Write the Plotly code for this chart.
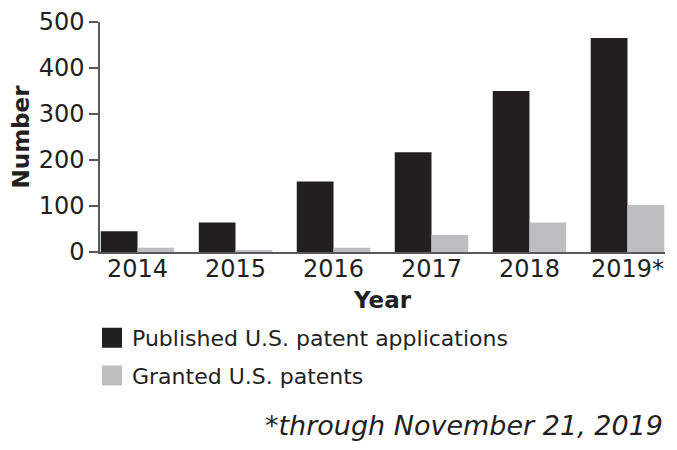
import plotly.graph_objects as go

years = ["2014", "2015", "2016", "2017", "2018", "2019*"]
published = [45, 64, 153, 217, 350, 465]
granted = [9, 4, 9, 37, 64, 102]
y_ticks = [0, 100, 200, 300, 400, 500]

BLACK = "#231f20"
GRAY = "#bcbec0"
AXIS = "#58595b"
FONT = "DejaVu Sans"

fig = go.Figure()
fig.add_trace(go.Bar(x=years, y=published, name="Published U.S. patent applications",
                     marker=dict(color=BLACK, line=dict(width=0)), showlegend=False))
fig.add_trace(go.Bar(x=years, y=granted, name="Granted U.S. patents",
                     marker=dict(color=GRAY, line=dict(width=0)), showlegend=False))
# legend entries (square swatches)
fig.add_trace(go.Scatter(x=[None], y=[None], mode="markers", name="Published U.S. patent applications",
                         legendgroup="a",
                         marker=dict(symbol="square", size=16, color=BLACK, line=dict(color=BLACK, width=4))))
fig.add_trace(go.Scatter(x=[None], y=[None], mode="markers", name="Granted U.S. patents",
                         legendgroup="b",
                         marker=dict(symbol="square", size=16, color=GRAY, line=dict(color=GRAY, width=4))))

# page body has an 8px margin; plot area target (page coords): x 100..665, y 22..252
OFF = 8
PL, PT, PW, PH = 100, 22, 565, 230

fig.update_layout(
    width=677 - OFF, height=450 - OFF,
    margin=dict(l=PL - OFF, r=12 - OFF + OFF, t=PT - OFF, b=450 - OFF - (PT - OFF) - PH - 0, autoexpand=False),
    plot_bgcolor="white", paper_bgcolor="white",
    barmode="group", bargap=0.25, bargroupgap=0,
    font=dict(family=FONT, color=BLACK, size=22),
    showlegend=True,
    legend=dict(x=(92 - PL) / PW, y=(PT + PH - 317) / PH,
                xanchor="left", yanchor="top", traceorder="grouped", tracegroupgap=6,
                font=dict(size=22, family=FONT, color=BLACK), bgcolor="rgba(0,0,0,0)"),
    xaxis=dict(range=[-0.383, 5.383], showline=True, linecolor=AXIS, linewidth=1.5,
               ticks="", tickfont=dict(size=24, family=FONT, color=BLACK), tickangle=0,
               ticklabelstandoff=-6, automargin=False,
               title=dict(text="<b>Year</b>", font=dict(size=23, family=FONT, color=BLACK), standoff=10),
               showgrid=False, zeroline=False),
    yaxis=dict(range=[0, 500], tickvals=y_ticks, showline=True, linecolor=AXIS, linewidth=1.5,
               ticks="outside", ticklen=9, tickwidth=1.5, tickcolor=AXIS,
               tickfont=dict(size=24, family=FONT, color=BLACK), automargin=False,
               title=dict(text="<b>Number</b>", font=dict(size=23, family=FONT, color=BLACK), standoff=4),
               showgrid=False, zeroline=False),
    annotations=[dict(text="<i>*through November 21, 2019</i>", xref="paper", yref="paper",
                      x=1.0, y=(PT + PH - 425) / PH, xanchor="right", yanchor="middle", showarrow=False,
                      font=dict(size=27, family=FONT, color=BLACK))],
)

fig.write_html("out.html")
